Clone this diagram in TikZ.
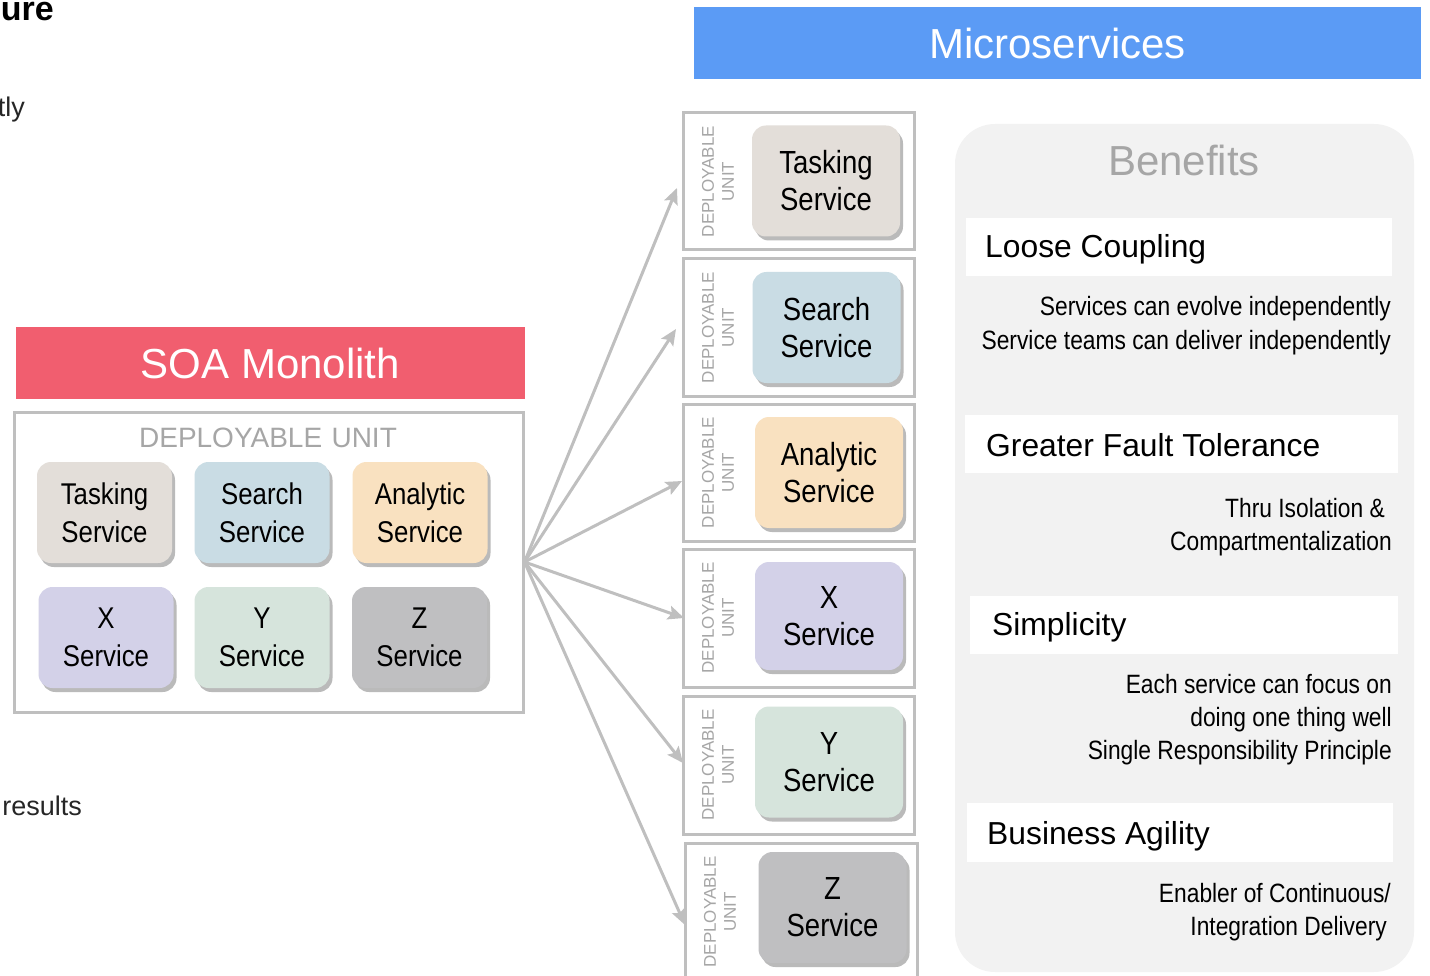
\documentclass[tikz,border=0pt]{standalone}
\usepackage{fontspec}
\setmainfont{Liberation Sans}
\newfontfamily\narrowsans[FakeStretch=0.86]{Liberation Sans}
\usetikzlibrary{arrows.meta,shadows}

\definecolor{msblue}{RGB}{91,155,245}
\definecolor{soared}{RGB}{241,94,111}
\definecolor{rim}{RGB}{191,191,191}
\definecolor{labelgray}{RGB}{166,166,166}
\definecolor{panelgray}{RGB}{242,242,242}
\definecolor{bodytext}{RGB}{38,38,38}
\definecolor{cTasking}{RGB}{227,222,217}
\definecolor{cSearch}{RGB}{201,220,228}
\definecolor{cAnalytic}{RGB}{249,225,192}
\definecolor{cX}{RGB}{211,209,232}
\definecolor{cY}{RGB}{214,228,220}
\definecolor{cZ}{RGB}{191,191,193}

\begin{document}
\begin{tikzpicture}[x=1pt,y=-1pt,
  banner/.style={inner sep=0pt, text=white, font=\fontsize{42}{48}\selectfont},
  unitbox/.style={draw=rim, line width=3pt, fill=white, inner sep=0pt},
  svc/.style={rounded corners=14pt, inner sep=0pt, align=center, text=black,
     drop shadow={shadow xshift=3pt, shadow yshift=-4pt, fill=black!60, opacity=0.45}},
  monosvc/.style={svc, minimum width=135pt, minimum height=101pt,
     font=\narrowsans\fontsize{30}{38}\selectfont},
  microsvc/.style={svc, minimum width=148pt, minimum height=111pt,
     font=\narrowsans\fontsize{32}{37}\selectfont},
  vlabel/.style={rotate=90, align=center, text=labelgray, inner sep=0pt,
     font=\fontsize{17}{20}\selectfont},
  fan/.style={draw=rim, line width=3pt, -{Stealth[length=16pt,width=14pt,inset=3pt]}},
  headbar/.style={fill=white, inner sep=0pt},
  headtext/.style={anchor=base west, inner sep=0pt, font=\fontsize{31.8}{36}\selectfont},
  subtext/.style={anchor=base east, inner sep=0pt, text=black,
     font=\narrowsans\fontsize{26.5}{32}\selectfont},
  edgetext/.style={anchor=base east, inner sep=0pt, text=bodytext,
     font=\fontsize{27}{32}\selectfont},
]
\useasboundingbox (0,0) rectangle (1430,976);

% text running in from the left
\node[edgetext, text=black, font=\bfseries\fontsize{34}{40}\selectfont] (hdr) at (54,21) {ure};
\node[edgetext] (frag1) at (25,117) {tly};
\node[edgetext] (frag2) at (82,815) {results};

% ---------------- monolith ----------------
\node[banner, fill=soared, minimum width=509pt, minimum height=72pt] (soa) at (270.5,363) {SOA Monolith};
\node[draw=rim, line width=3pt, fill=white, minimum width=509pt, minimum height=300pt, inner sep=0pt]
  (mono) at (268.5,562) {};
\node[text=labelgray, inner sep=0pt, font=\fontsize{28}{30}\selectfont] (monolabel) at (268,438) {DEPLOYABLE\,\,UNIT};

\node[monosvc, fill=cTasking]  (mTask) at (104.5,512.5) {Tasking\\Service};
\node[monosvc, fill=cSearch]   (mSrch) at (262,512.5)   {Search\\Service};
\node[monosvc, fill=cAnalytic] (mAnal) at (420,512.5)   {Analytic\\Service};
\node[monosvc, fill=cX]        (mX)    at (106,637.5)   {X\\Service};
\node[monosvc, fill=cY]        (mY)    at (262,637.5)   {Y\\Service};
\node[monosvc, fill=cZ]        (mZ)    at (419.5,637.5) {Z\\Service};

% ---------------- microservices ----------------
\node[banner, fill=msblue, minimum width=727pt, minimum height=72pt] (micro) at (1057.5,43) {Microservices};

\node[unitbox, minimum width=231pt, minimum height=137pt] (u1) at (798.5,181.5) {};
\node[unitbox, minimum width=231pt, minimum height=137pt] (u2) at (798.5,327.5) {};
\node[unitbox, minimum width=231pt, minimum height=137pt] (u3) at (798.5,472.5) {};
\node[unitbox, minimum width=231pt, minimum height=138pt] (u4) at (798.5,618) {};
\node[unitbox, minimum width=231pt, minimum height=138pt] (u5) at (798.5,765) {};
\node[unitbox, minimum width=232pt, minimum height=147pt] (u6) at (801,916.5) {};

\node[vlabel] (l1) at (718,181.5) {DEPLOYABLE\\UNIT};
\node[vlabel] (l2) at (718,327.5) {DEPLOYABLE\\UNIT};
\node[vlabel] (l3) at (718,472.5) {DEPLOYABLE\\UNIT};
\node[vlabel] (l4) at (718,618)   {DEPLOYABLE\\UNIT};
\node[vlabel] (l5) at (718,765)   {DEPLOYABLE\\UNIT};
\node[vlabel] (l6) at (720,912)   {DEPLOYABLE\\UNIT};

\node[microsvc, fill=cTasking]  (sTask) at (826,181)     {Tasking\\Service};
\node[microsvc, fill=cSearch]   (sSrch) at (826.5,327.5) {Search\\Service};
\node[microsvc, fill=cAnalytic] (sAnal) at (829,472.5)   {Analytic\\Service};
\node[microsvc, fill=cX, minimum height=108pt] (sX) at (829,616) {X\\Service};
\node[microsvc, fill=cY]        (sY)    at (829,762)     {Y\\Service};
\node[microsvc, fill=cZ]        (sZ)    at (832.5,907.5) {Z\\Service};

% arrow tips on the left edges of the deployable units
\coordinate (t1) at (677,188);
\coordinate (t2) at (676,329);
\coordinate (t3) at (682,481);
\coordinate (t4) at (684,618);
\coordinate (t5) at (683,763);
\coordinate (t6) at (685,925);
\foreach \t in {t1,t2,t3,t4,t5,t6}
  \draw[fan] (mono.east) -- (\t);

% ---------------- benefits ----------------
\node[fill=panelgray, rounded corners=40pt, minimum width=459pt, minimum height=848pt, inner sep=0pt]
  (panel) at (1184.5,548) {};
\node[text=labelgray, inner sep=0pt, font=\fontsize{42}{48}\selectfont] (bentitle) at (1184,160) {Benefits};

\node[headbar, minimum width=426pt, minimum height=58pt] (bar1) at (1179,247)   {};
\node[headbar, minimum width=433pt, minimum height=58pt] (bar2) at (1181.5,444) {};
\node[headbar, minimum width=428pt, minimum height=58pt] (bar3) at (1184,625)   {};
\node[headbar, minimum width=426pt, minimum height=59pt] (bar4) at (1180,832.5) {};

\node[headtext] (h1) at (985,258) {Loose Coupling};
\node[headtext] (h2) at (986,456) {Greater Fault Tolerance};
\node[headtext] (h3) at (992,635) {Simplicity};
\node[headtext] (h4) at (987,844) {Business Agility};

\node[subtext] (s11) at (1391,316) {Services can evolve independently};
\node[subtext] (s12) at (1391,349) {Service teams can deliver independently};
\node[subtext] (s21) at (1385,517) {Thru Isolation \&};
\node[subtext] (s22) at (1392,550) {Compartmentalization};
\node[subtext] (s31) at (1392,693) {Each service can focus on};
\node[subtext] (s32) at (1392,726) {doing one thing well};
\node[subtext] (s33) at (1392,759) {Single Responsibility Principle};
\node[subtext] (s41) at (1391,902) {Enabler of Continuous/};
\node[subtext] (s42) at (1387,935) {Integration Delivery};
\end{tikzpicture}
\end{document}
